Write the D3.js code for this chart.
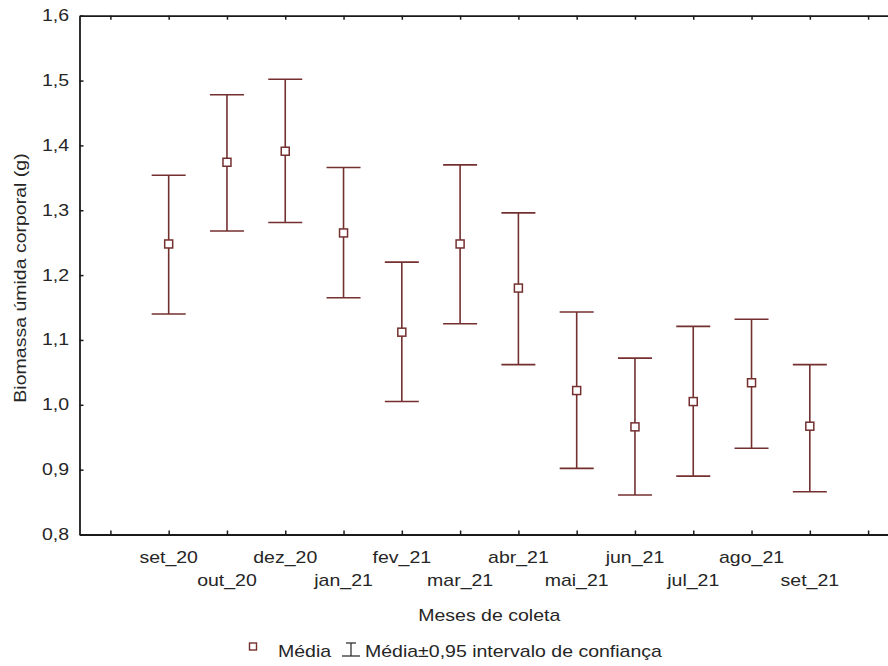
<!DOCTYPE html>
<html>
<head>
<meta charset="utf-8">
<script src="https://cdn.jsdelivr.net/npm/d3@7"></script>
<style>
  html, body { margin: 0; padding: 0; background: #fff; }
  svg { display: block; }
</style>
</head>
<body>
<svg id="chart" width="888" height="666"></svg>
<script>
// Monthly collections: mean wet body biomass with 95% confidence limits
const categories = ["set_20", "out_20", "dez_20", "jan_21", "fev_21", "mar_21",
                    "abr_21", "mai_21", "jun_21", "jul_21", "ago_21", "set_21"];
const means = [1.248, 1.374, 1.391, 1.265, 1.112, 1.248, 1.180, 1.022, 0.966, 1.005, 1.034, 0.967];
const upper = [1.354, 1.478, 1.502, 1.366, 1.220, 1.370, 1.296, 1.143, 1.072, 1.121, 1.132, 1.062];
const lower = [1.140, 1.268, 1.281, 1.165, 1.005, 1.125, 1.062, 0.902, 0.861, 0.890, 0.933, 0.866];
const yTicks = [0.8, 0.9, 1.0, 1.1, 1.2, 1.3, 1.4, 1.5, 1.6];
const yTitle = "Biomassa úmida corporal (g)";
const xTitle = "Meses de coleta";
const legendMean = "Média";
const legendCI = "Média±0,95 intervalo de confiança";

const svg = d3.select("#chart");
const plot = { left: 79.5, right: 899, top: 15.7, bottom: 534.5 };

const FONT = "'Liberation Sans', Arial, sans-serif";
const FS = 16;
const SX = 1.22;          // wide lettering
const textColor = "#262626";
const markColor = "#742f2f";
const axisColor = "#1a1a1a";

// slot positions: one empty slot each side of the twelve months
const x = d3.scaleLinear().domain([-0.53, 13.53]).range([plot.left, plot.right]);
const y = d3.scaleLinear().domain([0.8, 1.6]).range([plot.bottom, plot.top]);
const slotTicks = d3.range(0, 14);
const fmt = v => d3.format(".1f")(v).replace(".", ",");

function label(parent, px, py, str, anchor, opts = {}) {
  const g = parent.append("g")
    .attr("transform", `translate(${px},${py})` + (opts.rotate ? ` rotate(${opts.rotate})` : "") + ` scale(${opts.sx || SX},1)`);
  return g.append("text")
    .attr("x", 0).attr("y", 0)
    .attr("text-anchor", anchor)
    .attr("font-family", FONT)
    .attr("font-size", opts.size || FS)
    .attr("fill", textColor)
    .text(str);
}

// axes: ticks point into the plot
const axisG = svg.append("g");
const bottomAxis = d3.axisBottom(x).tickValues(slotTicks).tickSize(-4).tickSizeOuter(0).tickFormat("");
const topAxis = d3.axisTop(x).tickValues(slotTicks).tickSize(-4).tickSizeOuter(0).tickFormat("");
const leftAxis = d3.axisLeft(y).tickValues(yTicks).tickSize(-4).tickSizeOuter(0).tickFormat("");

axisG.append("g").attr("transform", `translate(0,${plot.bottom})`).call(bottomAxis);
axisG.append("g").attr("transform", `translate(0,${plot.top})`).call(topAxis);
axisG.append("g").attr("transform", `translate(${plot.left},0)`).call(leftAxis);
axisG.selectAll(".domain").attr("stroke", axisColor).attr("stroke-width", 1.8);
axisG.selectAll(".tick line").attr("stroke", axisColor).attr("stroke-width", 1.5);

// y tick labels
yTicks.forEach(v => label(svg, 69, y(v) + 5.5, fmt(v), "end"));

// x category labels, staggered on two rows
categories.forEach((c, i) => {
  const row = i % 2;
  label(svg, x(i + 1), row === 0 ? 563 : 586, c, "middle");
});

// titles
label(svg, (plot.left + plot.right) / 2, 621, xTitle, "middle");
label(svg, 26, 278, yTitle, "middle", { rotate: -90 });

// error bars
const bars = svg.append("g").attr("stroke", markColor).attr("stroke-width", 1.6).attr("fill", "none");
const capHalf = 17;
categories.forEach((c, i) => {
  const cx = x(i + 1);
  bars.append("line").attr("x1", cx).attr("x2", cx).attr("y1", y(upper[i])).attr("y2", y(lower[i]));
  bars.append("line").attr("x1", cx - capHalf).attr("x2", cx + capHalf).attr("y1", y(upper[i])).attr("y2", y(upper[i]));
  bars.append("line").attr("x1", cx - capHalf).attr("x2", cx + capHalf).attr("y1", y(lower[i])).attr("y2", y(lower[i]));
});

// mean markers
const box = 8;
svg.append("g").selectAll("rect").data(means).join("rect")
  .attr("x", (d, i) => x(i + 1) - box / 2)
  .attr("y", d => y(d) - box / 2)
  .attr("width", box).attr("height", box)
  .attr("fill", "#fff").attr("stroke", markColor).attr("stroke-width", 1.5);

// legend
const lg = svg.append("g");
lg.append("rect").attr("x", 249.5).attr("y", 643).attr("width", 7).attr("height", 7)
  .attr("fill", "#fff").attr("stroke", markColor).attr("stroke-width", 1.4);
label(lg, 278, 657, legendMean, "start");
const sym = lg.append("g").attr("stroke", "#333").attr("stroke-width", 1.3);
sym.append("line").attr("x1", 351).attr("x2", 351).attr("y1", 643).attr("y2", 656);
sym.append("line").attr("x1", 342).attr("x2", 360).attr("y1", 656).attr("y2", 656);
sym.append("line").attr("x1", 346).attr("x2", 356).attr("y1", 643).attr("y2", 643);
label(lg, 365, 657, legendCI, "start");
</script>
</body>
</html>
